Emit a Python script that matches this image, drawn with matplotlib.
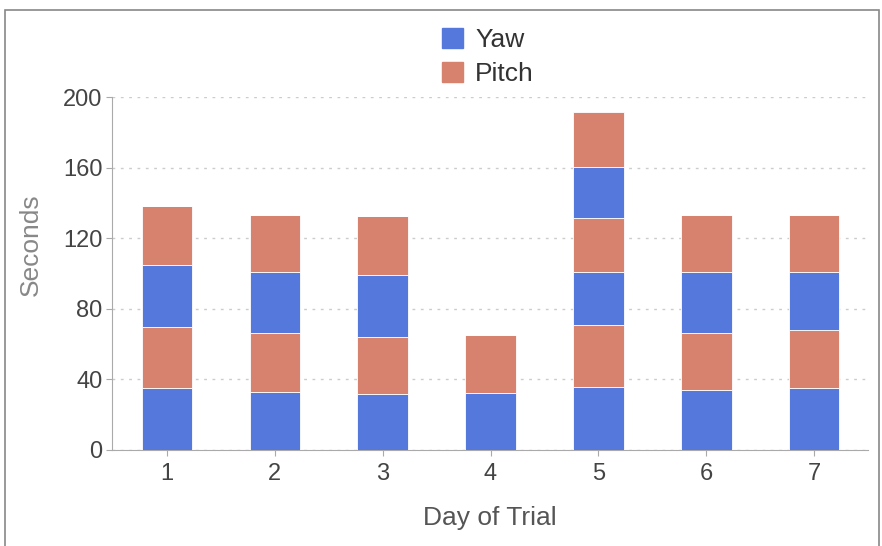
import matplotlib.pyplot as plt
import numpy as np
from matplotlib.patches import Rectangle

plt.rcParams['font.family'] = ['Liberation Sans', 'DejaVu Sans']

# Days of the trial
days = [1, 2, 3, 4, 5, 6, 7]

# each stack alternates Yaw / Pitch segments (0 = no segment)
yaw1 = [35, 32.7, 31.8, 32.1, 35.9, 34, 35]
pitch1 = [34.5, 33.5, 32.5, 33.1, 35, 32.2, 33]
yaw2 = [35.5, 34.9, 34.6, 0, 30.2, 34.9, 33.1]
pitch2 = [33, 32.2, 33.4, 0, 30.3, 32.2, 32.2]
yaw3 = [0, 0, 0, 0, 29.2, 0, 0]
pitch3 = [0, 0, 0, 0, 30.7, 0, 0]

yaw_color = "#5578DD"
pitch_color = "#D6826E"

fig = plt.figure(figsize=(8.82, 5.46), dpi=100)
ax = fig.add_axes([112/882, 1 - 450/546, (868-112)/882, (450-97)/546])

# frame around the chart
fig.patches.append(Rectangle((5/882, -0.1), 874/882, 1.1 - 10/546, transform=fig.transFigure,
                             fill=False, edgecolor="#888888", linewidth=1.2))

segments = [(yaw1, yaw_color), (pitch1, pitch_color), (yaw2, yaw_color),
            (pitch2, pitch_color), (yaw3, yaw_color), (pitch3, pitch_color)]
bottom = np.zeros(len(days))
for vals, c in segments:
    ax.bar(days, vals, bottom=bottom, width=0.47, color=c, edgecolor="white", linewidth=0.6, zorder=3)
    bottom += np.array(vals)

ax.set_xlim(0.49, 7.5)
ax.set_ylim(0, 200)
ax.set_yticks([0, 40, 80, 120, 160, 200])
ax.set_xticks(days)
ax.tick_params(axis="both", labelsize=17, colors="#444444", length=4, color="#aaaaaa")
ax.tick_params(axis="x", pad=5)
ax.tick_params(axis="y", pad=3)
ax.grid(axis="y", linestyle=(0, (2, 4)), color="#cccccc", linewidth=1, zorder=0)

for s in ["top", "right"]:
    ax.spines[s].set_visible(False)
ax.spines["left"].set_color("#aaaaaa")
ax.spines["bottom"].set_color("#aaaaaa")

fig.text(31/882, 1 - 245/546, "Seconds", rotation=90, ha="center", va="center",
         fontsize=19, color="#888888")
fig.text(490/882, 1 - 518/546, "Day of Trial", ha="center", va="center",
         fontsize=19, color="#555555")

# legend
handles = [Rectangle((0, 0), 1, 1, color=yaw_color), Rectangle((0, 0), 1, 1, color=pitch_color)]
fig.legend(handles, ["Yaw", "Pitch"], loc="center", bbox_to_anchor=(488/882, 1 - 57/546),
           frameon=False, fontsize=19, handlelength=0.8, handleheight=0.8,
           labelspacing=0.35, handletextpad=0.45, labelcolor="#333333")

plt.savefig("out.png", dpi=100)
